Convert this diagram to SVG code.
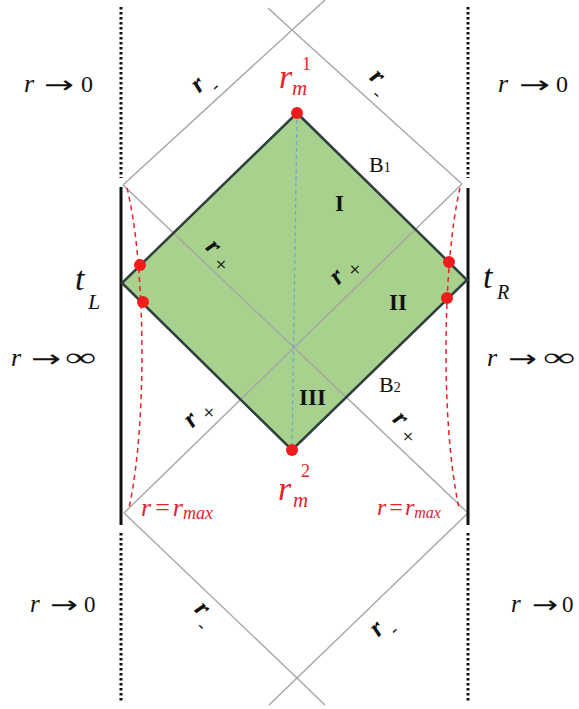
<svg xmlns="http://www.w3.org/2000/svg" width="579" height="709" viewBox="0 0 579 709">
<style>
.m{font-family:"Liberation Serif","Times New Roman",serif;fill:#111}
.it{font-style:italic}
.red{fill:#e3242b}
.ar{font-family:"DejaVu Sans",sans-serif;font-size:24px;fill:#111}
.gray{fill:none;stroke:#a6a6a6;stroke-width:1.4}
.dot{fill:none;stroke:#111;stroke-width:3;stroke-dasharray:2.5 2.5}
.wall{fill:none;stroke:#111;stroke-width:3}
.rdash{fill:none;stroke:#e3242b;stroke-width:1.5;stroke-dasharray:5 4}
.rd{fill:#f01c1c}
.lbl{font-size:26px;font-weight:bold}
.sub{font-size:18px;font-weight:normal}
.subp{font-size:22px;font-weight:normal}
.reg{font-size:23px;font-weight:bold}
</style>
<rect width="579" height="709" fill="#fff"/>
<g id="region">
<polygon points="297,113 467,280 292,450 122,283" fill="#a9d18e"/>
</g>
<g id="connectors">
<polyline class="gray" points="325,0 292,30 123,185"/>
<polyline class="gray" points="268,8 292,30 462,184"/>
<line class="gray" x1="123" y1="185" x2="468" y2="513"/>
<line class="gray" x1="462" y1="184" x2="124" y2="513"/>
<polyline class="gray" points="124,513 297,678 325,705"/>
<polyline class="gray" points="468,513 297,678 269,705"/>
<line class="dot" x1="121" y1="7" x2="121" y2="178"/>
<line class="dot" x1="468" y1="7" x2="468" y2="178"/>
<line class="dot" x1="121" y1="533" x2="121" y2="702"/>
<line class="dot" x1="468" y1="533" x2="468" y2="702"/>
<line class="wall" x1="121" y1="187" x2="121" y2="525"/>
<line class="wall" x1="468" y1="188" x2="468" y2="525"/>
<polygon points="297,113 467,280 292,450 122,283" fill="none" stroke="#2f3e3e" stroke-width="2.5"/>
<line x1="297" y1="113" x2="292" y2="450" stroke="#6fa8d6" stroke-width="1.2" stroke-dasharray="4 3"/>
<path class="rdash" d="M127,188 C145,260 148,420 129,508"/>
<path class="rdash" d="M460,188 C443,260 440,420 459,508"/>
</g>
<g id="points">
<circle class="rd" cx="297" cy="113" r="6"/>
<circle class="rd" cx="292" cy="450" r="6"/>
<circle class="rd" cx="140" cy="265" r="6"/>
<circle class="rd" cx="143" cy="302" r="6"/>
<circle class="rd" cx="449" cy="262" r="6"/>
<circle class="rd" cx="447" cy="298" r="6"/>
</g>
<g id="labels-limits">
<g id="lim-tl"><text class="m it" x="24" y="92" font-size="26">r</text><text class="ar" x="44" y="93" textLength="30" lengthAdjust="spacingAndGlyphs">→</text><text class="m" x="81" y="92" font-size="24">0</text></g>
<g id="lim-tr"><text class="m it" x="498" y="92" font-size="26">r</text><text class="ar" x="519" y="93" textLength="31" lengthAdjust="spacingAndGlyphs">→</text><text class="m" x="556" y="92" font-size="24">0</text></g>
<g id="lim-ml"><text class="m it" x="11" y="366" font-size="26">r</text><text class="ar" x="31" y="367" textLength="30" lengthAdjust="spacingAndGlyphs">→</text><text class="m" x="65" y="366" font-size="26" textLength="31" lengthAdjust="spacingAndGlyphs">∞</text></g>
<g id="lim-mr"><text class="m it" x="487" y="366" font-size="26">r</text><text class="ar" x="508" y="367" textLength="29" lengthAdjust="spacingAndGlyphs">→</text><text class="m" x="543" y="366" font-size="26" textLength="32" lengthAdjust="spacingAndGlyphs">∞</text></g>
<g id="lim-bl"><text class="m it" x="30" y="612" font-size="25">r</text><text class="ar" x="50" y="613" textLength="28" lengthAdjust="spacingAndGlyphs">→</text><text class="m" x="84" y="612" font-size="23">0</text></g>
<g id="lim-br"><text class="m it" x="511" y="612" font-size="25">r</text><text class="ar" x="532" y="613" textLength="26" lengthAdjust="spacingAndGlyphs">→</text><text class="m" x="562" y="612" font-size="23">0</text></g>
</g>
<g id="labels-t">
<text class="m it" x="75" y="290" font-size="34">t</text><text class="m it" x="88" y="309" font-size="22">L</text>
<text class="m it" x="483" y="288" font-size="34">t</text><text class="m it" x="497" y="299" font-size="20">R</text>
</g>
<g id="labels-rm">
<text class="m it red" x="279" y="88" font-size="34">r</text><text class="m it red" x="292" y="95" font-size="21">m</text><text class="m red" x="302" y="70" font-size="18">1</text>
<text class="m it red" x="278" y="500" font-size="34">r</text><text class="m it red" x="293" y="507" font-size="21">m</text><text class="m red" x="301" y="477" font-size="18">2</text>
</g>
<g id="labels-rmax">
<text class="m it red" x="141" y="516" font-size="26">r<tspan font-style="normal" dx="4">=</tspan><tspan dx="3">r</tspan><tspan font-size="18" dy="3">max</tspan></text>
<text class="m it red" x="377" y="515" font-size="24">r<tspan font-style="normal" dx="3">=</tspan><tspan dx="2">r</tspan><tspan font-size="16" dy="3">max</tspan></text>
</g>
<g id="labels-B">
<text class="m" x="369" y="172" font-size="22">B<tspan font-size="14">1</tspan></text>
<text class="m" x="379" y="392" font-size="22">B<tspan font-size="14">2</tspan></text>
</g>
<g id="labels-regions">
<text class="m reg" x="335" y="211">I</text>
<text class="m reg" x="389" y="310">II</text>
<text class="m reg" x="299" y="405">III</text>
</g>
<g id="labels-horizons">
<text class="m it lbl" transform="translate(199,93.4) rotate(-42)">r<tspan class="sub" font-style="normal" dx="3.4" dy="11">-</tspan></text>
<text class="m it lbl" transform="translate(368.6,78.7) rotate(42)">r<tspan class="sub" font-style="normal" dx="3.4" dy="11">-</tspan></text>
<text class="m it lbl" transform="translate(204.6,248.5) rotate(44)">r<tspan class="subp" font-style="normal" dx="6.7" dy="7.4">+</tspan></text>
<text class="m it lbl" transform="translate(338.2,285.4) rotate(-44)">r<tspan class="subp" font-style="normal" dx="6.7" dy="7.4">+</tspan></text>
<text class="m it lbl" transform="translate(192.2,428.4) rotate(-44)">r<tspan class="subp" font-style="normal" dx="6.7" dy="7.4">+</tspan></text>
<text class="m it lbl" transform="translate(391.6,420.5) rotate(44)">r<tspan class="subp" font-style="normal" dx="6.7" dy="7.4">+</tspan></text>
<text class="m it lbl" transform="translate(193.6,610.5) rotate(44)">r<tspan class="sub" font-style="normal" dx="3.4" dy="11">-</tspan></text>
<text class="m it lbl" transform="translate(378.2,637.4) rotate(-44)">r<tspan class="sub" font-style="normal" dx="3.4" dy="11">-</tspan></text>
</g>
</svg>
